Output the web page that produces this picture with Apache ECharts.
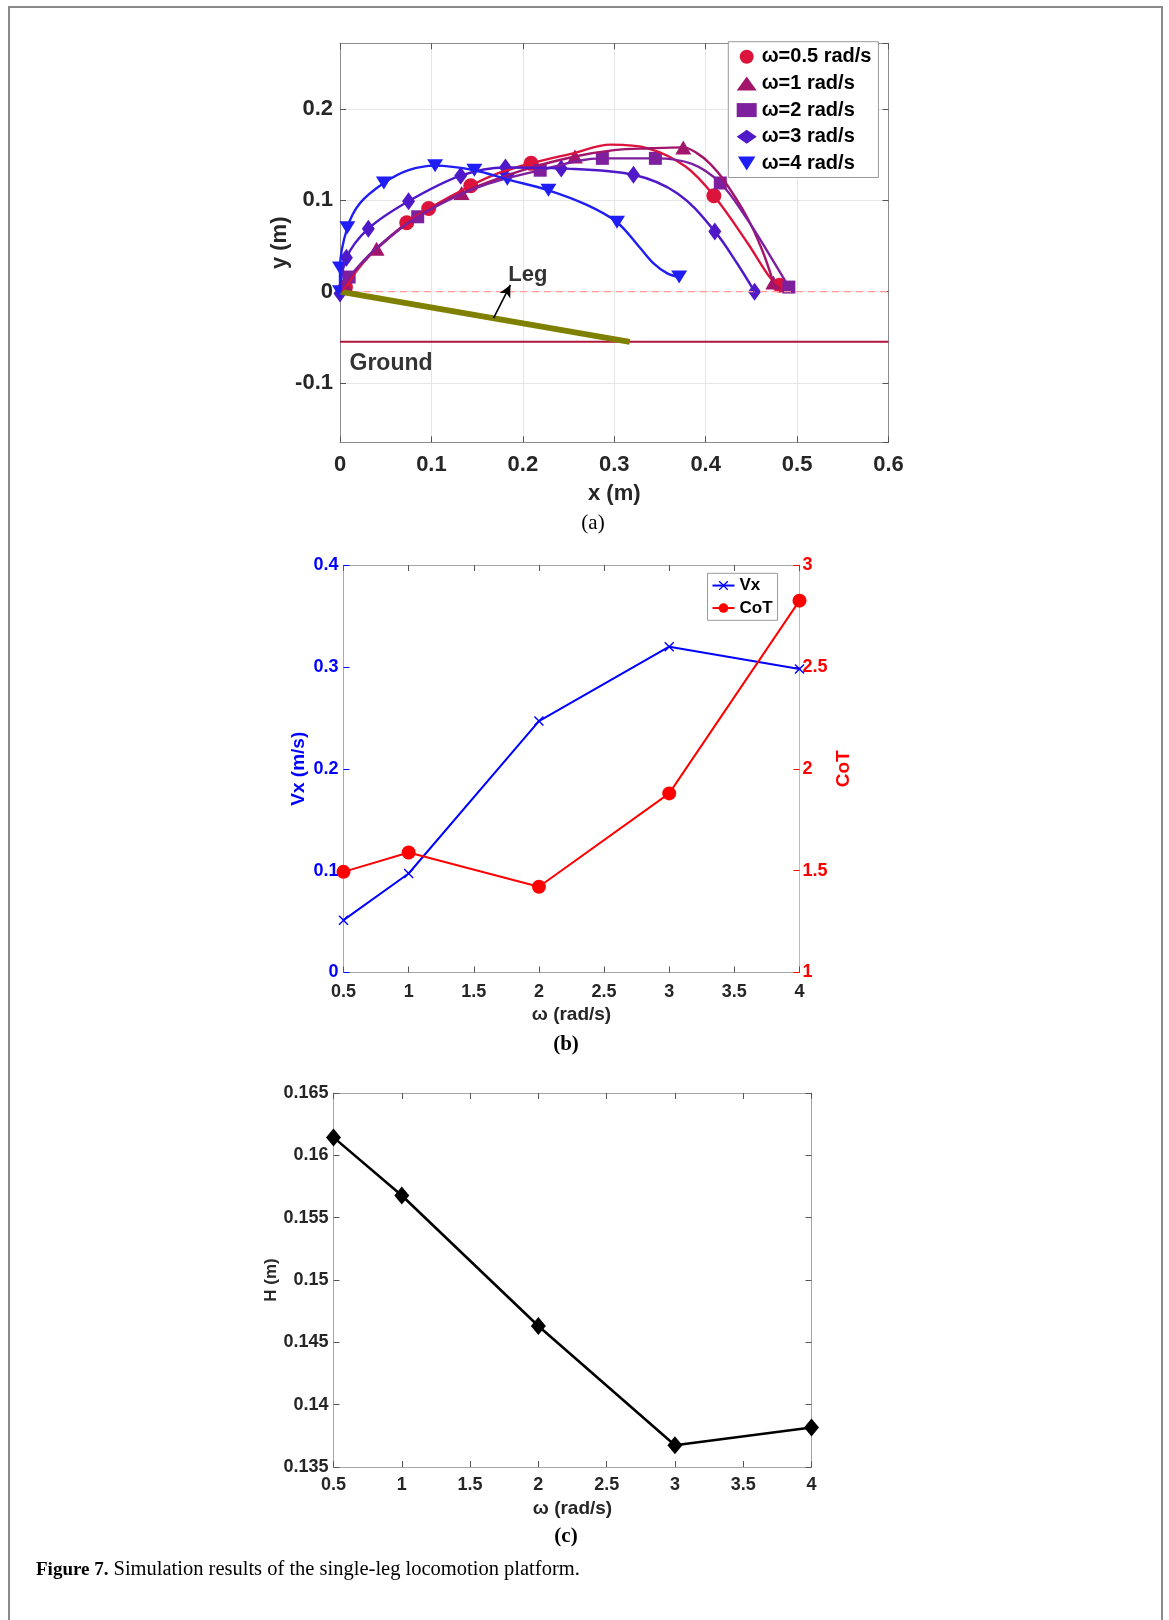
<!DOCTYPE html>
<html><head><meta charset="utf-8">
<script src="https://cdn.jsdelivr.net/npm/echarts@6/dist/echarts.min.js"></script>
<style>html,body{margin:0;padding:0;background:#fff}#c{width:1169px;height:1620px}</style>
</head><body><div id="c"></div>
<script>
// ---------------- data: panel (a) trajectories ----------------
const trajNames = ['ω=0.5 rad/s', 'ω=1 rad/s', 'ω=2 rad/s', 'ω=3 rad/s', 'ω=4 rad/s'];
const trajColors = ['#DC143C', '#A3156B', '#7E1F9E', '#4F19C9', '#1F1FF5'];
const curve05 = [[0,0],[0.006,0.005],[0.02,0.025],[0.04,0.047],[0.073,0.0755],[0.097,0.091],[0.143,0.116],[0.174,0.130],[0.209,0.1405],[0.255,0.1515],[0.296,0.161],[0.337,0.157],[0.378,0.137],[0.409,0.105],[0.446,0.053],[0.47,0.016],[0.481,0.007]];
const marks05 = [[0.006,0.005],[0.073,0.0755],[0.097,0.091],[0.143,0.116],[0.209,0.1405],[0.409,0.105],[0.481,0.007]];
const curve1 = [[0,0],[0.005,0.008],[0.02,0.027],[0.04,0.047],[0.08,0.079],[0.133,0.108],[0.2,0.133],[0.257,0.148],[0.3,0.155],[0.34,0.157],[0.3755,0.158],[0.39,0.152],[0.405,0.140],[0.42,0.122],[0.445,0.082],[0.462,0.045],[0.474,0.010]];
const marks1 = [[0.005,0.008],[0.04,0.047],[0.133,0.108],[0.257,0.148],[0.3755,0.158],[0.474,0.010]];
const curve2 = [[0,0],[0.01,0.016],[0.04,0.048],[0.085,0.082],[0.15,0.114],[0.219,0.133],[0.287,0.146],[0.345,0.146],[0.385,0.140],[0.416,0.119],[0.445,0.080],[0.47,0.040],[0.491,0.005]];
const marks2 = [[0.01,0.016],[0.085,0.082],[0.219,0.133],[0.287,0.146],[0.345,0.146],[0.416,0.119],[0.491,0.005]];
const curve3 = [[0,-0.002],[0.007,0.037],[0.031,0.069],[0.075,0.099],[0.132,0.127],[0.181,0.136],[0.242,0.135],[0.321,0.128],[0.37,0.107],[0.41,0.066],[0.435,0.030],[0.4535,0.0]];
const marks3 = [[0,-0.002],[0.007,0.037],[0.031,0.069],[0.075,0.099],[0.132,0.127],[0.181,0.136],[0.242,0.135],[0.321,0.128],[0.41,0.066],[0.4535,0.0]];
const curve4 = [[0,0],[0,0.026],[0.008,0.07],[0.022,0.097],[0.048,0.119],[0.075,0.133],[0.104,0.138],[0.147,0.133],[0.183,0.123],[0.228,0.111],[0.27,0.095],[0.303,0.076],[0.3286,0.0475],[0.343,0.031],[0.358,0.020],[0.371,0.016]];
const marks4 = [[0,0],[0,0.026],[0.008,0.07],[0.048,0.119],[0.104,0.138],[0.147,0.133],[0.183,0.123],[0.228,0.111],[0.303,0.076],[0.371,0.016]];
const zeroLine = [[0,0],[0.6,0]];
const groundLine = [[0,-0.055],[0.6,-0.055]];
const legLine = [[0,0],[0.317,-0.055]];
const legArrow = [[0.168,-0.029],[0.1864,0.0073]];
const legTextPos = [0.184, 0.018];
const groundTextPos = [0.0104, -0.0785];

// ---------------- data: panel (b) ----------------
const omega = [0.5, 1, 2, 3, 4];
const vx = [0.0514, 0.0972, 0.2468, 0.3198, 0.2979];
const cot = [1.494, 1.589, 1.421, 1.879, 2.825];

// ---------------- data: panel (c) ----------------
const hMax = [0.16144, 0.15678, 0.14631, 0.13675, 0.13817];

// ---------------- styling helpers ----------------
const SANS = '"Liberation Sans", Arial, sans-serif';
const SERIF = '"Liberation Serif", "Times New Roman", serif';
const curves = [curve05, curve1, curve2, curve3, curve4];
const marks = [marks05, marks1, marks2, marks3, marks4];
const symbols = ['circle', 'triangle', 'rect', 'diamond', 'path://M0,0L10,0L5,8Z'];
const symSizes = [15, [16, 14], 13, [13, 18], [16, 13]];
const pair = (xs, ys) => xs.map((x, i) => [x, ys[i]]);

function axisBase(o) {
  return Object.assign({
    type: 'value',
    axisLine: { show: true, onZero: false, lineStyle: { color: o.lineColor || '#9a9a9a', width: 1 } },
    axisTick: { show: true, inside: true, length: 6, lineStyle: { color: o.tickColor || '#555', width: 1 } },
    splitLine: { show: false },
    axisLabel: { show: false },
  }, o.extra);
}

const gridA = { left: 340, top: 43.3, width: 548.5, height: 399, outerBoundsMode: 'none' };
const gridB = { left: 343.5, top: 565, width: 456, height: 407.5, outerBoundsMode: 'none' };
const gridC = { left: 333.5, top: 1093, width: 478, height: 374, outerBoundsMode: 'none' };

const lblA = { fontFamily: SANS, fontWeight: 'bold', fontSize: 22, color: '#262626' };
const lblS = { fontFamily: SANS, fontWeight: 'bold', fontSize: 18, color: '#262626' };
const nameS = { fontFamily: SANS, fontWeight: 'bold', fontSize: 19, color: '#262626' };

const xAxes = [
  axisBase({ lineColor: '#8c8c8c', extra: { gridIndex: 0, position: 'bottom', min: 0, max: 0.6, interval: 0.1,
    axisLabel: Object.assign({ show: true, margin: 12 }, lblA),
    splitLine: { show: true, lineStyle: { color: '#e6e6e6', width: 1 } },
    name: 'x (m)', nameLocation: 'middle', nameGap: 41, nameTextStyle: Object.assign({}, lblA) } }),
  axisBase({ lineColor: '#8c8c8c', extra: { gridIndex: 0, position: 'top', min: 0, max: 0.6, interval: 0.1 } }),
  axisBase({ lineColor: '#a6a6a6', extra: { gridIndex: 1, position: 'bottom', min: 0.5, max: 4, interval: 0.5,
    axisLabel: Object.assign({ show: true, margin: 11 }, lblS),
    name: 'ω (rad/s)', nameLocation: 'middle', nameGap: 33, nameTextStyle: Object.assign({}, nameS) } }),
  axisBase({ lineColor: '#a6a6a6', extra: { gridIndex: 1, position: 'top', min: 0.5, max: 4, interval: 0.5 } }),
  axisBase({ lineColor: '#a6a6a6', extra: { gridIndex: 2, position: 'bottom', min: 0.5, max: 4, interval: 0.5,
    axisLabel: Object.assign({ show: true, margin: 9 }, lblS),
    name: 'ω (rad/s)', nameLocation: 'middle', nameGap: 32, nameTextStyle: Object.assign({}, nameS) } }),
  axisBase({ lineColor: '#a6a6a6', extra: { gridIndex: 2, position: 'top', min: 0.5, max: 4, interval: 0.5 } }),
];

const yAxes = [
  axisBase({ lineColor: '#8c8c8c', extra: { gridIndex: 0, position: 'left', min: -0.165, max: 0.272, minInterval: 0.1, maxInterval: 0.1,
    axisLabel: Object.assign({ show: true, margin: 7, showMinLabel: false, showMaxLabel: false }, lblA),
    splitLine: { show: true, lineStyle: { color: '#e6e6e6', width: 1 } },
    name: 'y (m)', nameLocation: 'middle', nameGap: 48, nameTextStyle: Object.assign({}, lblA) } }),
  axisBase({ lineColor: '#8c8c8c', extra: { gridIndex: 0, position: 'right', min: -0.165, max: 0.272, minInterval: 0.1, maxInterval: 0.1 } }),
  axisBase({ lineColor: '#a0a0ff', tickColor: '#0000ff', extra: { gridIndex: 1, position: 'left', min: 0, max: 0.4, interval: 0.1,
    axisLabel: Object.assign({ show: true, margin: 5 }, lblS, { color: '#0000ff' }),
    name: 'Vx (m/s)', nameLocation: 'middle', nameGap: 35, nameTextStyle: Object.assign({}, nameS, { color: '#0000ff' }) } }),
  axisBase({ lineColor: '#ffa0a0', tickColor: '#ff0000', extra: { gridIndex: 1, position: 'right', min: 1, max: 3, interval: 0.5,
    axisLabel: Object.assign({ show: true, margin: 3 }, lblS, { color: '#ff0000' }),
    name: 'CoT', nameLocation: 'middle', nameGap: 35, nameTextStyle: Object.assign({}, nameS, { color: '#ff0000' }) } }),
  axisBase({ lineColor: '#a6a6a6', extra: { gridIndex: 2, position: 'left', min: 0.135, max: 0.165, interval: 0.005,
    axisLabel: Object.assign({ show: true, margin: 5, formatter: v => String(+v.toFixed(3)) }, lblS),
    name: 'H (m)', nameLocation: 'middle', nameGap: 52, nameTextStyle: Object.assign({}, nameS, { fontSize: 17 }) } }),
  axisBase({ lineColor: '#a6a6a6', extra: { gridIndex: 2, position: 'right', min: 0.135, max: 0.165, interval: 0.005 } }),
];

const series = [];
// reference lines in (a)
series.push({ type: 'line', name: 'zero', xAxisIndex: 0, yAxisIndex: 0, data: zeroLine, showSymbol: false, silent: true,
  lineStyle: { color: '#ff9a9a', width: 1.2, type: [7, 5] } });
series.push({ type: 'line', name: 'ground', xAxisIndex: 0, yAxisIndex: 0, data: groundLine, showSymbol: false, silent: true,
  lineStyle: { color: '#b2163c', width: 2 } });
series.push({ type: 'line', name: 'leg', xAxisIndex: 0, yAxisIndex: 0, data: legLine, showSymbol: false, silent: true,
  lineStyle: { color: '#808000', width: 6 },
  markLine: { silent: true, symbol: ['none', 'arrow'], symbolSize: [9, 12], label: { show: false },
    lineStyle: { color: '#000', width: 1.6, type: 'solid' },
    data: [[{ coord: legArrow[0] }, { coord: legArrow[1] }]] } });
// trajectory curves
curves.forEach((c, i) => series.push({ type: 'line', name: 'curve' + i, xAxisIndex: 0, yAxisIndex: 0, data: c,
  smooth: 0.35, showSymbol: false, silent: true, lineStyle: { color: trajColors[i], width: 2.4 } }));
// markers
marks.forEach((m, i) => series.push({ type: 'scatter', name: trajNames[i], xAxisIndex: 0, yAxisIndex: 0, data: m,
  symbol: symbols[i], symbolSize: symSizes[i], silent: true, itemStyle: { color: trajColors[i], opacity: 1 } }));
// text annotations
series.push({ type: 'scatter', name: 'txt', xAxisIndex: 0, yAxisIndex: 0, symbolSize: 0, silent: true,
  data: [{ name: 'Leg', value: legTextPos, label: { fontSize: 22 } }, { name: 'Ground', value: groundTextPos, label: { fontSize: 23 } }],
  label: { show: true, position: 'right', distance: 0, formatter: p => p.name, fontFamily: SANS, fontWeight: 'bold', color: '#000' } });
// panel (b)
series.push({ type: 'line', name: 'Vx', xAxisIndex: 2, yAxisIndex: 2, data: pair(omega, vx),
  symbol: 'path://M0,1L1,0L5,4L9,0L10,1L6,5L10,9L9,10L5,6L1,10L0,9L4,5Z', symbolSize: 10, showSymbol: true,
  lineStyle: { color: '#0000ff', width: 2 }, itemStyle: { color: '#0000ff' }, silent: true });
series.push({ type: 'line', name: 'CoT', xAxisIndex: 2, yAxisIndex: 3, data: pair(omega, cot),
  symbol: 'circle', symbolSize: 14, showSymbol: true,
  lineStyle: { color: '#ff0000', width: 2 }, itemStyle: { color: '#ff0000' }, silent: true });
// panel (c)
series.push({ type: 'line', name: 'H', xAxisIndex: 4, yAxisIndex: 4, data: pair(omega, hMax),
  symbol: 'diamond', symbolSize: [15, 18], showSymbol: true,
  lineStyle: { color: '#000', width: 2.6 }, itemStyle: { color: '#000' }, silent: true });

const option = {
  animation: false,
  backgroundColor: '#fff',
  grid: [gridA, gridB, gridC],
  xAxis: xAxes,
  yAxis: yAxes,
  legend: [
    { data: trajNames, orient: 'vertical', left: 728.3, top: 41.7, itemWidth: 20, itemHeight: 14, itemGap: 6.7,
      padding: [5, 7, 4, 8.4], borderColor: '#9a9a9a', borderWidth: 1, backgroundColor: '#fff', selectedMode: false,
      textStyle: { fontFamily: SANS, fontWeight: 'bold', fontSize: 20, lineHeight: 20, color: '#000' } },
    { data: ['Vx', 'CoT'], orient: 'vertical', left: 707.5, top: 573.3, itemWidth: 22, itemHeight: 12, itemGap: 4,
      padding: [3, 5, 3, 4], borderColor: '#9a9a9a', borderWidth: 1, backgroundColor: '#fff', selectedMode: false,
      textStyle: { fontFamily: SANS, fontWeight: 'bold', fontSize: 17, lineHeight: 18.5, color: '#000' } }
  ],
  graphic: [
    { type: 'rect', silent: true, z: -10, shape: { x: 9, y: 7, width: 1153, height: 1700 },
      style: { fill: 'none', stroke: '#8a8a8a', lineWidth: 2 } },
    { type: 'text', silent: true, x: 593, y: 523, style: { text: '(a)', fontFamily: SERIF, fontSize: 21, fill: '#000', textAlign: 'center', textVerticalAlign: 'middle' } },
    { type: 'text', silent: true, x: 566, y: 1045, style: { text: '(b)', fontFamily: SERIF, fontSize: 21, fontWeight: 'bold', fill: '#000', textAlign: 'center', textVerticalAlign: 'middle' } },
    { type: 'text', silent: true, x: 566, y: 1537, style: { text: '(c)', fontFamily: SERIF, fontSize: 21, fontWeight: 'bold', fill: '#000', textAlign: 'center', textVerticalAlign: 'middle' } },
    { type: 'text', silent: true, x: 36, y: 1570, style: {
      text: '{b|Figure 7.} {r|Simulation results of the single-leg locomotion platform.}',
      fontFamily: SERIF, fontSize: 20, fill: '#000', textVerticalAlign: 'middle',
      rich: { b: { fontFamily: SERIF, fontSize: 19, fontWeight: 'bold', fill: '#000' }, r: { fontFamily: SERIF, fontSize: 20.5, fill: '#000' } } } }
  ],
  series: series
};
const chart = echarts.init(document.getElementById('c'), null, { renderer: 'canvas' });
chart.setOption(option);
</script></body></html>
